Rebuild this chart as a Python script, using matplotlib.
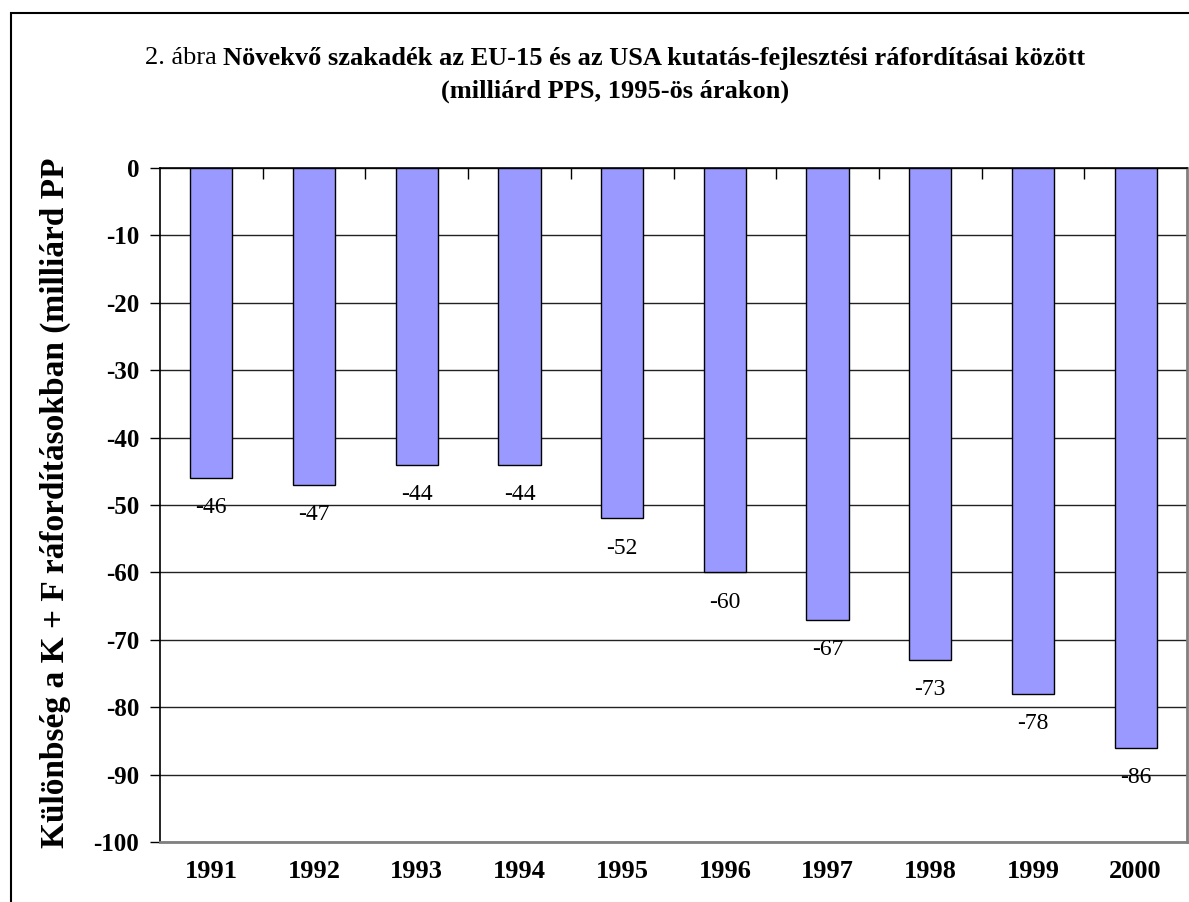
import matplotlib.pyplot as plt
from matplotlib.patches import Rectangle

years = ["1991", "1992", "1993", "1994", "1995", "1996", "1997", "1998", "1999", "2000"]
gap = [-46, -47, -44, -44, -52, -60, -67, -73, -78, -86]
yticks = [0, -10, -20, -30, -40, -50, -60, -70, -80, -90, -100]

plt.rcParams["font.family"] = ["Liberation Serif", "DejaVu Serif"]

fig = plt.figure(figsize=(11.89, 9.02), dpi=100)
ax = fig.add_axes([160 / 1189, 60 / 902, 1027 / 1189, 674 / 902])

# outer frame of the chart (right/bottom run off the picture)
fig.patches.append(Rectangle((11 / 1189, -0.1), 1.2, 1 - 13 / 902 + 0.1,
                             transform=fig.transFigure, fill=False,
                             edgecolor="black", linewidth=1.5))

x = list(range(len(years)))
ax.bar(x, gap, width=0.41, color="#9999ff", edgecolor="black", linewidth=1.0, zorder=3)

for xi, v in zip(x, gap):
    ax.annotate(str(v), (xi, v), xytext=(0, -14), textcoords="offset points",
                ha="center", va="top", fontsize=17, zorder=4)

ax.set_xlim(-0.5, len(years) - 0.5)
ax.set_ylim(-100, 0)
ax.set_yticks(yticks)
ax.set_yticklabels([str(t) for t in yticks], fontweight="bold", fontsize=18)
ax.set_xticks(x)
ax.set_xticklabels(years, fontweight="bold", fontsize=19)
ax.tick_params(axis="x", which="major", length=0, pad=13)
ax.tick_params(axis="y", length=7, width=1, pad=8, color="black")
ax.set_xticks([i + 0.5 for i in x[:-1]], minor=True)
ax.tick_params(axis="x", which="minor", bottom=False, top=True, direction="in",
               length=8, width=1, color="black")

ax.yaxis.grid(True, color="#222222", linewidth=1.0, zorder=0)
ax.set_axisbelow(True)

ax.spines["left"].set_color("black")
ax.spines["top"].set_color("black")
ax.spines["left"].set_linewidth(1.2)
ax.spines["top"].set_linewidth(1.2)
ax.spines["bottom"].set_color("#808080")
ax.spines["right"].set_color("#808080")
ax.spines["bottom"].set_linewidth(2)
ax.spines["right"].set_linewidth(2)

fig.text(55 / 1189, 1 - 503 / 902, "Különbség a K + F ráfordításokban (milliárd PP",
         rotation=90, ha="center", va="center", fontsize=24, fontweight="bold")

# title: first words regular, rest bold, centred together
renderer = fig.canvas.get_renderer()
t1 = fig.text(0, 1 - 58 / 902, "2. ábra ", fontsize=19, va="center", ha="left")
t2 = fig.text(0, 1 - 58 / 902, "Növekvő szakadék az EU-15 és az USA kutatás-fejlesztési ráfordításai között",
              fontsize=19, fontweight="bold", va="center", ha="left")
w1 = t1.get_window_extent(renderer).width
w2 = t2.get_window_extent(renderer).width
x0 = 615 - (w1 + w2) / 2
t1.set_x(x0 / 1189)
t2.set_x((x0 + w1) / 1189)
fig.text(615 / 1189, 1 - 91 / 902, "(milliárd PPS, 1995-ös árakon)",
         fontsize=19, fontweight="bold", ha="center", va="center")

fig.savefig("out.png", dpi=100)
